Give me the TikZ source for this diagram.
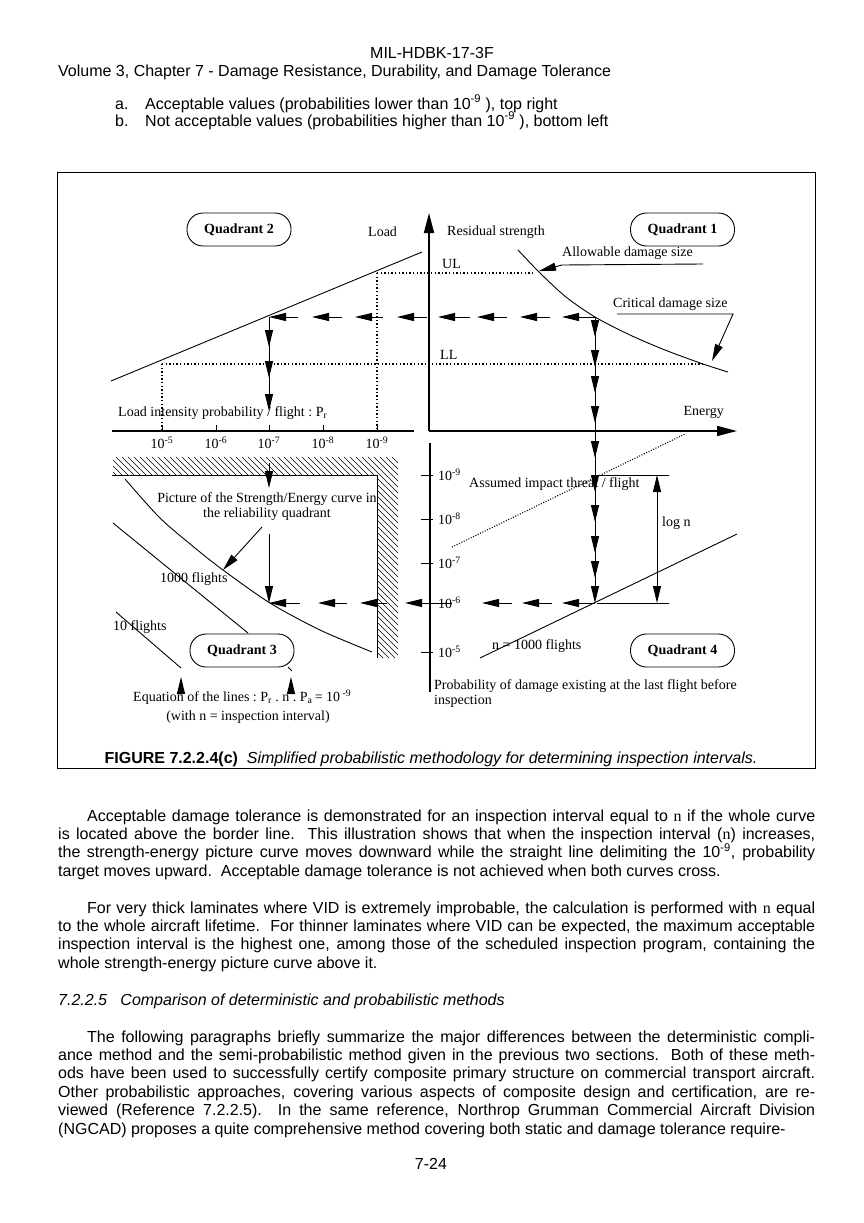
\documentclass[tikz,border=0pt]{standalone}
\usepackage{fontspec}
\setmainfont{Liberation Sans}
\newfontfamily\tms{Liberation Serif}
\usetikzlibrary{arrows.meta}
\newcommand\pgtxt{\fontsize{16}{18.4}\selectfont}
\newcommand\fftxt{\tms\fontsize{14}{15}\selectfont}
\begin{document}
\begin{tikzpicture}[x=1pt,y=-1pt,
  pg/.style={font=\pgtxt, inner sep=0pt},
  para/.style={font=\pgtxt, inner sep=0pt, anchor=base west, text width=757pt, align=justify},
  lab/.style={font=\fftxt, inner sep=0pt},
  quad/.style={draw, rounded corners=16pt, minimum width=104pt, minimum height=33pt, font=\fftxt\bfseries, inner sep=0pt, line width=0.9pt},
  thinl/.style={line width=0.9pt},
  axisl/.style={line width=1.6pt},
  dotl/.style={line width=1.4pt, dash pattern=on 1.4pt off 2.2pt},
  arr/.style={-{Triangle[length=17pt,width=8pt]}, line width=0.9pt},
  bigarr/.style={-{Triangle[length=20pt,width=10pt]}, line width=1.6pt}]
\useasboundingbox[fill=white] (0,0) rectangle (864,1223);

% ---------------- header ----------------
\node[pg, anchor=base] (hdr1) at (432,58.5) {MIL-HDBK-17-3F};
\node[pg, anchor=base west] (hdr2) at (58,77) {Volume 3, Chapter 7 - Damage Resistance, Durability, and Damage Tolerance};
\node[pg, anchor=base west] (la) at (115,109) {a.};
\node[pg, anchor=base west] (lat) at (145,109) {Acceptable values (probabilities lower than 10\textsuperscript{-9} ), top right};
\node[pg, anchor=base west] (lb) at (115,126) {b.};
\node[pg, anchor=base west] (lbt) at (145,126) {Not acceptable values (probabilities higher than 10\textsuperscript{-9} ), bottom left};

% ---------------- frame ----------------
\draw[line width=1pt] (57,172) rectangle (815,768);

% ---------------- axes ----------------
\coordinate (O) at (429,431);
\draw[bigarr] (O) -- (429,213);
\draw[bigarr] (O) -- (737,431);
\draw[axisl] (112,431) -- (414,431);
\foreach \x in {162,216,269,323,377} \draw[thinl] (\x,431) -- (\x,425);
\draw[axisl] (430,443) -- (430,692);
\foreach \y in {475,519,563,603,652} \draw[thinl] (421,\y) -- (433,\y);

% axis labels
\node[lab, anchor=west] (load) at (368,232) {Load};
\node[lab, anchor=west] (rs) at (447,232) {Residual strength};
\node[lab, anchor=west] (ul) at (442,264) {UL};
\node[lab, anchor=west] (ll) at (440,355) {LL};
\node[lab, anchor=east] (energy) at (724,412) {Energy};
\node[lab, anchor=west] (lip) at (118,413) {Load intensity probability / flight :\ P\textsubscript{r}};
\foreach \x/\e [count=\i] in {162/5,216/6,269/7,323/8,377/9}
  \node[lab] (tl\i) at (\x,443) {10\textsuperscript{-\e}};
\foreach \y/\e [count=\i] in {475/9,519/8,563/7,603/6,652/5}
  \node[lab, anchor=west] (vl\i) at (438,\y) {10\textsuperscript{-\e}};

% ---------------- quadrant boxes ----------------
\node[quad] (q2) at (239,229.5) {Quadrant 2};
\node[quad] (q1) at (682.5,229.5) {Quadrant 1};
\node[quad] (q3) at (242,650.5) {Quadrant 3};
\node[quad] (q4) at (682.5,650.5) {Quadrant 4};

% ---------------- quadrant 2 ----------------
\draw[thinl] (111,381) -- (422,252);
\draw[dotl] (377,273) -- (532,273);
\draw[dotl] (377,273) -- (377,431);
\draw[dotl] (162,364) -- (703,364);
\draw[dotl] (162,364) -- (162,431);

% ---------------- quadrant 1 ----------------
\draw[thinl] plot[smooth] coordinates {(518,250) (540,273) (566,297) (595,317) (630,335) (665,350) (703,364) (728,372)};
\node[lab, anchor=west] (ads) at (562,253) {Allowable damage size};
\draw[arr] (703,264) -- (562,265) -- (539,271);
\node[lab, anchor=west] (cds) at (613,304) {Critical damage size};
\draw[arr] (617,314) -- (733,314) -- (712,361);

% horizontal dashed arrows at load level
\foreach \s/\t in {595/562,550/520,507/477,470/438,427/397,383/355,342/312,298/269}
  \draw[arr] (\s,317) -- (\t,317);
% vertical arrows in Q2
\draw[thinl] (269,317) -- (269,392);
\foreach \t in {347,378,411} \draw[arr] (269,{\t-20}) -- (269,\t);
% vertical arrows at x=595
\draw[thinl] (595,317) -- (595,590);
\foreach \t in {337,367,393,423,458,492,522,553,578,603} \draw[arr] (595,{\t-20}) -- (595,\t);

% ---------------- quadrant 3 ----------------
\begin{scope}
  \clip (113,457) -- (398,457) -- (398,658) -- (377,658) -- (377,475) -- (113,475) -- cycle;
  \foreach \i in {-100,-94,...,400} \draw[line width=0.6pt] (\i,457) -- ++(220,220);
\end{scope}
\draw[thinl] (112,475) -- (377,475) -- (377,658);

\draw[thinl] plot[smooth] coordinates {(125,479) (160,518) (195,548) (223,570) (270,603) (320,630) (372,652)};
\draw[thinl] (113,523) -- (248,633);
\draw[thinl] (116,612) -- (181,668);
\draw[thinl] (288,667) -- (292,671);

\node[lab, align=center, font=\fftxt] (pic) at (267,507) {Picture of the Strength/Energy curve in\\the reliability quadrant};
\draw[arr] (262,527) -- (223,570);
\node[lab, anchor=west] (f1000) at (160,579) {1000 flights};
\node[lab, anchor=west] (f10) at (113,627) {10 flights};

\draw[arr] (269,463) -- (269,488);
\draw[arr] (269,534) -- (269,603);
\foreach \s/\t in {595/562,552/522,512/482,452/405,387/360,347/318,300/269}
  \draw[arr] (\s,603) -- (\t,603);

\draw[arr] (181,693) -- (181,677);
\draw[arr] (291,693) -- (291,677);
\node[lab, anchor=west] (eq) at (133,697) {Equation of the lines :\ P\textsubscript{r}\ .\ n\ .\ P\textsubscript{a}\,= 10\textsuperscript{ -9}};
\node[lab] (eq2) at (248,717) {(with n = inspection interval)};

% ---------------- quadrant 4 ----------------
\draw[line width=1.1pt, dash pattern=on 1pt off 1.6pt] (452,547) -- (685,434);
\node[lab, anchor=west] (ait) at (469,484) {Assumed impact threat / flight};
\draw[thinl] (597,475) -- (669,475);
\draw[thinl] (597,603) -- (669,603);
\draw[thinl, {Triangle[length=17pt,width=8pt]}-{Triangle[length=17pt,width=8pt]}] (657,475) -- (657,603);
\node[lab, anchor=west] (logn) at (662,523) {log n};
\draw[thinl] (480,658) -- (737,534);
\node[lab, anchor=west] (n1000) at (492,646) {n = 1000 flights};
\node[lab, anchor=north west, align=left] (prob) at (434,679) {Probability of damage existing at the last flight before\\inspection};

% ---------------- caption ----------------
\node[pg, anchor=base] (cap) at (431,763) {\textbf{FIGURE 7.2.2.4(c)}\ \ \textit{Simplified probabilistic methodology for determining inspection intervals.}};

% ---------------- body text ----------------
\node[para] (p1) at (58,821) {\hspace*{29pt}Acceptable damage tolerance is demonstrated for an inspection interval equal to {\tms n} if the whole curve\linebreak is located above the border line.\ \ This illustration shows that when the inspection interval ({\tms n}) increases,\linebreak the strength-energy picture curve moves downward while the straight line delimiting the 10\textsuperscript{-9}, probability\linebreak target moves upward.\ \ Acceptable damage tolerance is not achieved when both curves cross.};

\node[para] (p2) at (58,913) {\hspace*{29pt}For very thick laminates where VID is extremely improbable, the calculation is performed with {\tms n} equal\linebreak to the whole aircraft lifetime.\ \ For thinner laminates where VID can be expected, the maximum acceptable\linebreak inspection interval is the highest one, among those of the scheduled inspection program, containing the\linebreak whole strength-energy picture curve above it.};

\node[pg, anchor=base west] (sec) at (58,1005) {\itshape 7.2.2.5\ \ \ Comparison of deterministic and probabilistic methods};

\node[para] (p3) at (58,1042) {\hspace*{29pt}The following paragraphs briefly summarize the major differences between the deterministic compli-\linebreak ance method and the semi-probabilistic method given in the previous two sections.\ \ Both of these meth-\linebreak ods have been used to successfully certify composite primary structure on commercial transport aircraft.\linebreak Other probabilistic approaches, covering various aspects of composite design and certification, are re-\linebreak viewed (Reference 7.2.2.5).\ \ In the same reference, Northrop Grumman Commercial Aircraft Division\linebreak (NGCAD) proposes a quite comprehensive method covering both static and damage tolerance require-};

\node[pg, anchor=base] (pgno) at (431,1169) {7-24};
\end{tikzpicture}
\end{document}
